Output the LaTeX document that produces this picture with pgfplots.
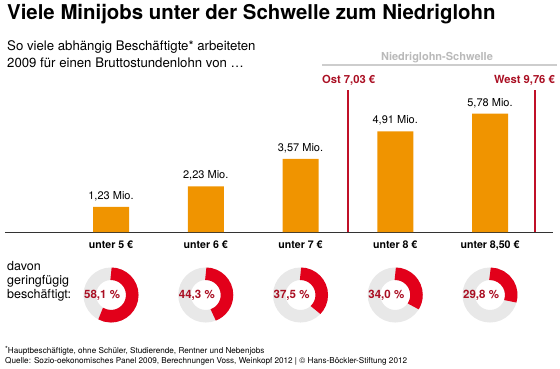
\documentclass[border=0pt]{standalone}
\usepackage{fontspec}
\setmainfont{TeX Gyre Heros}
\usepackage{pgfplots}
\pgfplotsset{compat=1.18}
\definecolor{barorange}{RGB}{240,148,0}
\definecolor{linered}{RGB}{192,16,40}
\definecolor{textred}{RGB}{170,15,35}
\definecolor{donutred}{RGB}{226,0,26}
\definecolor{donutgrey}{RGB}{232,232,232}
\definecolor{schwgrey}{RGB}{185,185,185}
\definecolor{schwline}{RGB}{205,205,205}
\begin{document}
\begin{tikzpicture}[x=1pt,y=1pt]
\useasboundingbox (0,0) rectangle (560,-369);
% title and subtitle
\node[anchor=base west, inner sep=0pt, font=\fontsize{20.4}{20.4}\selectfont\bfseries] at (7,-20) {Viele Minijobs unter der Schwelle zum Niedriglohn};
\node[anchor=base west, inner sep=0pt, font=\fontsize{13.2}{13.2}\selectfont] at (7,-51) {So viele abhängig Beschäftigte* arbeiteten};
\node[anchor=base west, inner sep=0pt, font=\fontsize{13.2}{13.2}\selectfont] at (7,-68) {2009 für einen Bruttostundenlohn von \dots};
% threshold labels
\node[anchor=base, inner sep=0pt, font=\fontsize{11}{11}\selectfont\bfseries, text=schwgrey] at (437,-61) {Niedriglohn-Schwelle};
\node[anchor=base west, inner sep=0pt, font=\fontsize{11.2}{11.2}\selectfont\bfseries, text=textred] at (322,-83.5) {Ost 7,03 €};
\node[anchor=base east, inner sep=0pt, font=\fontsize{11.2}{11.2}\selectfont\bfseries, text=textred] at (555,-83.5) {West 9,76 €};
% left text for donuts
\node[anchor=base west, inner sep=0pt, font=\fontsize{12.5}{12.5}\selectfont] at (7,-270.5) {davon};
\node[anchor=base west, inner sep=0pt, font=\fontsize{12.5}{12.5}\selectfont] at (7,-284.5) {geringfügig};
\node[anchor=base west, inner sep=0pt, font=\fontsize{12.5}{12.5}\selectfont] at (7,-298.5) {beschäftigt:};
% footnotes
\node[anchor=base west, inner sep=0pt, font=\fontsize{8.15}{8.15}\selectfont] at (5,-353) {\raisebox{1.5pt}{\scriptsize *}Hauptbeschäftigte, ohne Schüler, Studierende, Rentner und Nebenjobs};
\node[anchor=base west, inner sep=0pt, font=\fontsize{8.15}{8.15}\selectfont] at (5,-363) {Quelle: Sozio-oekonomisches Panel 2009, Berechnungen Voss, Weinkopf 2012 | © Hans-Böckler-Stiftung 2012};
\begin{axis}[
  at={(4.88pt,-232pt)}, anchor=south west,
  scale only axis, width=548.6pt, height=143.5pt,
  xmin=-0.12, xmax=5.67, ymin=0, ymax=7,
  clip=false,
  axis x line*=bottom, axis y line=none,
  x axis line style={-, black!80, line width=0.9pt},
  xtick={1,2,3,4,5},
  xticklabels={unter 5 €, unter 6 €, unter 7 €, unter 8 €, unter 8{,}50 €},
  major tick length=0pt,
  xticklabel style={font=\fontsize{10.6}{10.6}\selectfont\bfseries, anchor=base, yshift=-16pt, inner sep=0pt},
  ytick=\empty,
  /pgf/number format/assume math mode=true,
]
\addplot[ybar, bar width=36pt, fill=barorange, draw=none,
  nodes near coords={\pgfmathprintnumber[fixed, fixed zerofill, precision=2, use comma]{\pgfplotspointmeta}~Mio.},
  nodes near coords style={font=\fontsize{11}{11}\selectfont, anchor=base, inner sep=0pt, yshift=7.5pt, text=black}]
  coordinates {(1,1.23) (2,2.23) (3,3.57) (4,4.91) (5,5.78)};
% threshold lines
\addplot[linered, line width=1.6pt] coordinates {(3.5,0) (3.5,6.93)};
\addplot[linered, line width=1.6pt] coordinates {(5.475,0) (5.475,6.93)};
\addplot[schwline, line width=2pt] coordinates {(3.227,8.146) (5.707,8.146)};
% donuts: share of marginal employment
\draw[donutgrey, line width=12.5pt] (axis cs:1,-3.073) circle[radius=21.25pt];
\draw[donutred, line width=12.5pt] (axis cs:1,-3.073) ++(0pt,21.25pt) arc[start angle=90, delta angle=-58.1*3.6, radius=21.25pt];
\node[anchor=west, xshift=-27pt, inner sep=0pt, font=\fontsize{11.5}{11.5}\selectfont\bfseries, text=textred] at (axis cs:1,-3.073) {58,1~\%};
\draw[donutgrey, line width=12.5pt] (axis cs:2,-3.073) circle[radius=21.25pt];
\draw[donutred, line width=12.5pt] (axis cs:2,-3.073) ++(0pt,21.25pt) arc[start angle=90, delta angle=-44.3*3.6, radius=21.25pt];
\node[anchor=west, xshift=-27pt, inner sep=0pt, font=\fontsize{11.5}{11.5}\selectfont\bfseries, text=textred] at (axis cs:2,-3.073) {44,3~\%};
\draw[donutgrey, line width=12.5pt] (axis cs:3,-3.073) circle[radius=21.25pt];
\draw[donutred, line width=12.5pt] (axis cs:3,-3.073) ++(0pt,21.25pt) arc[start angle=90, delta angle=-37.5*3.6, radius=21.25pt];
\node[anchor=west, xshift=-27pt, inner sep=0pt, font=\fontsize{11.5}{11.5}\selectfont\bfseries, text=textred] at (axis cs:3,-3.073) {37,5~\%};
\draw[donutgrey, line width=12.5pt] (axis cs:4,-3.073) circle[radius=21.25pt];
\draw[donutred, line width=12.5pt] (axis cs:4,-3.073) ++(0pt,21.25pt) arc[start angle=90, delta angle=-34.0*3.6, radius=21.25pt];
\node[anchor=west, xshift=-27pt, inner sep=0pt, font=\fontsize{11.5}{11.5}\selectfont\bfseries, text=textred] at (axis cs:4,-3.073) {34,0~\%};
\draw[donutgrey, line width=12.5pt] (axis cs:5,-3.073) circle[radius=21.25pt];
\draw[donutred, line width=12.5pt] (axis cs:5,-3.073) ++(0pt,21.25pt) arc[start angle=90, delta angle=-29.8*3.6, radius=21.25pt];
\node[anchor=west, xshift=-27pt, inner sep=0pt, font=\fontsize{11.5}{11.5}\selectfont\bfseries, text=textred] at (axis cs:5,-3.073) {29,8~\%};
\end{axis}
\end{tikzpicture}
\end{document}
